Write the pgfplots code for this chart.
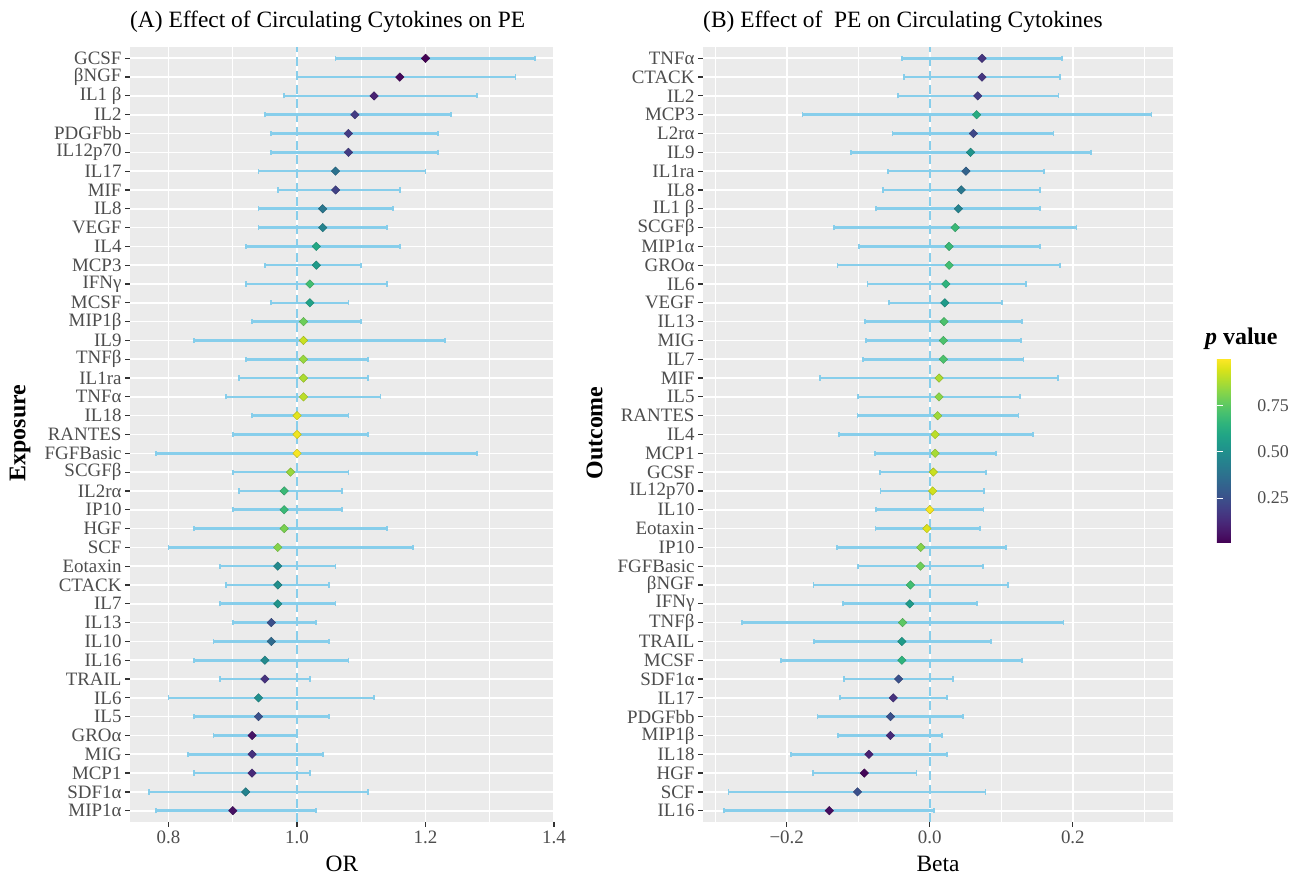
\documentclass[border=0pt]{standalone}
\usepackage{fontspec}
\setmainfont{Liberation Serif}
\usepackage{pgfplots}
\pgfplotsset{compat=1.18}
\usepgfplotslibrary{colormaps}
\usepackage{pgfplotstable}
\definecolor{ggbg}{HTML}{EBEBEB}
\definecolor{skyb}{HTML}{87CEEB}
\definecolor{ticklab}{HTML}{4D4D4D}
\definecolor{tickc}{HTML}{333333}

\pgfplotstableread{
y or lo hi p
1 0.90 0.78 1.03 0.05
2 0.92 0.77 1.11 0.45
3 0.93 0.84 1.02 0.12
4 0.93 0.83 1.04 0.15
5 0.93 0.87 1.00 0.06
6 0.94 0.84 1.05 0.25
7 0.94 0.80 1.12 0.50
8 0.95 0.88 1.02 0.15
9 0.95 0.84 1.08 0.48
10 0.96 0.87 1.05 0.35
11 0.96 0.90 1.03 0.25
12 0.97 0.88 1.06 0.52
13 0.97 0.89 1.05 0.50
14 0.97 0.88 1.06 0.48
15 0.97 0.80 1.18 0.82
16 0.98 0.84 1.14 0.80
17 0.98 0.90 1.07 0.68
18 0.98 0.91 1.07 0.68
19 0.99 0.90 1.08 0.85
20 1.00 0.78 1.28 0.99
21 1.00 0.90 1.11 0.98
22 1.00 0.93 1.08 0.96
23 1.01 0.89 1.13 0.90
24 1.01 0.91 1.11 0.88
25 1.01 0.92 1.11 0.85
26 1.01 0.84 1.23 0.92
27 1.01 0.93 1.10 0.78
28 1.02 0.96 1.08 0.58
29 1.02 0.92 1.14 0.70
30 1.03 0.95 1.10 0.55
31 1.03 0.92 1.16 0.60
32 1.04 0.94 1.14 0.45
33 1.04 0.94 1.15 0.40
34 1.06 0.97 1.16 0.20
35 1.06 0.94 1.20 0.38
36 1.08 0.96 1.22 0.18
37 1.08 0.96 1.22 0.18
38 1.09 0.95 1.24 0.18
39 1.12 0.98 1.28 0.10
40 1.16 1.00 1.34 0.03
41 1.20 1.06 1.37 0.01
}\dataA

\pgfplotstableread{
y b lo hi p
1 -0.1405 -0.2875 0.0055 0.04
2 -0.101 -0.2815 0.078 0.25
3 -0.0915 -0.163 -0.0185 0.02
4 -0.085 -0.194 0.0245 0.10
5 -0.055 -0.128 0.0175 0.12
6 -0.055 -0.157 0.0465 0.25
7 -0.051 -0.126 0.0245 0.15
8 -0.0435 -0.1195 0.0325 0.25
9 -0.039 -0.2075 0.129 0.65
10 -0.039 -0.162 0.0855 0.55
11 -0.038 -0.2625 0.187 0.75
12 -0.028 -0.1215 0.0655 0.55
13 -0.027 -0.1625 0.1095 0.70
14 -0.013 -0.1005 0.074 0.78
15 -0.0125 -0.13 0.106 0.82
16 -0.004 -0.076 0.0705 0.95
17 0.0 -0.075 0.075 0.99
18 0.004 -0.069 0.076 0.93
19 0.005 -0.07 0.0785 0.92
20 0.0075 -0.077 0.093 0.87
21 0.0075 -0.127 0.1445 0.90
22 0.011 -0.101 0.124 0.86
23 0.013 -0.1005 0.1265 0.83
24 0.013 -0.153 0.1795 0.88
25 0.019 -0.093 0.131 0.72
26 0.019 -0.089 0.128 0.72
27 0.02 -0.09 0.129 0.72
28 0.021 -0.0575 0.1005 0.55
29 0.0225 -0.087 0.1345 0.65
30 0.027 -0.129 0.1825 0.70
31 0.027 -0.099 0.154 0.68
32 0.0355 -0.134 0.205 0.68
33 0.04 -0.0755 0.154 0.45
34 0.044 -0.0655 0.154 0.40
35 0.0505 -0.058 0.16 0.32
36 0.057 -0.1105 0.225 0.52
37 0.061 -0.052 0.173 0.22
38 0.0655 -0.178 0.31 0.62
39 0.067 -0.044 0.18 0.18
40 0.073 -0.036 0.1825 0.16
41 0.073 -0.0385 0.1845 0.16
}\dataB

\pgfplotsset{
  forest/.style={
    scale only axis, height=775bp,
    ymin=0.4, ymax=41.6,
    ytick={1,...,41},
    axis background/.style={fill=ggbg},
    axis line style={draw=none},
    xmajorgrids, xminorgrids, ymajorgrids,
    major grid style={white, line width=1.6bp},
    minor grid style={white, line width=0.8bp},
    tick align=outside,
    xtick pos=left, ytick pos=left,
    major tick length=5bp,
    minor tick length=0pt,
    tick style={tickc, line width=1.2bp},
    ticklabel style={font=\fontsize{19}{21}\selectfont, text=ticklab},
    colormap/viridis,
    point meta min=0.008, point meta max=1.0,
  },
  ebar/.style={draw=none, mark=none,
    error bars/.cd, x dir=both, x explicit, error mark=|,
    error bar style={draw=skyb, line width=2.6bp},
    error mark options={draw=skyb, line width=1.8bp, mark size=2.6bp}},
  pts/.style={scatter, only marks, scatter src=explicit, mark=square*,
    mark size=3.0bp, mark options={rotate=45}},
}

\begin{document}
\begin{tikzpicture}
\useasboundingbox (0,0) rectangle (1301bp,876bp);

% Panel A
\begin{axis}[forest, at={(130bp,54bp)}, anchor=south west, width=424bp,
  xmin=0.74, xmax=1.40,
  xtick={0.8,1.0,1.2,1.4}, xticklabels={0.8,1.0,1.2,1.4},
  minor xtick={0.9,1.1,1.3},
  yticklabels={MIP1α,SDF1α,MCP1,MIG,GROα,IL5,IL6,TRAIL,IL16,IL10,IL13,IL7,CTACK,Eotaxin,SCF,HGF,IP10,IL2rα,SCGFβ,FGFBasic,RANTES,IL18,TNFα,IL1ra,TNFβ,IL9,MIP1β,MCSF,IFNγ,MCP3,IL4,VEGF,IL8,MIF,IL17,IL12p70,PDGFbb,IL2,IL1 β,βNGF,GCSF},
]
\addplot[skyb, line width=2bp, dash pattern=on 9bp off 5bp] coordinates {(1,0.4) (1,41.6)};
\addplot[ebar] table[x=or, y=y, x error plus expr=\thisrow{hi}-\thisrow{or}, x error minus expr=\thisrow{or}-\thisrow{lo}] {\dataA};
\addplot[pts] table[x=or, y=y, meta=p] {\dataA};
\end{axis}

% Panel B
\begin{axis}[forest, at={(703bp,54bp)}, anchor=south west, width=470bp,
  xmin=-0.317, xmax=0.340,
  xtick={-0.2,0,0.2}, xticklabels={−0.2,0.0,0.2},
  minor xtick={-0.3,-0.1,0.1,0.3},
  yticklabels={IL16,SCF,HGF,IL18,MIP1β,PDGFbb,IL17,SDF1α,MCSF,TRAIL,TNFβ,IFNγ,βNGF,FGFBasic,IP10,Eotaxin,IL10,IL12p70,GCSF,MCP1,IL4,RANTES,IL5,MIF,IL7,MIG,IL13,VEGF,IL6,GROα,MIP1α,SCGFβ,IL1 β,IL8,IL1ra,IL9,L2rα,MCP3,IL2,CTACK,TNFα},
  colorbar,
  colorbar style={
    at={(parent axis.south east)}, anchor=south west,
    xshift=35.3bp, yshift=279bp,
    scale only axis, width=37bp, height=184bp,
    ytick={0.25,0.5,0.75}, yticklabels={0.25,0.50,0.75},
    yticklabel pos=right,
    ytick pos=both,
    xtick=\empty,
    axis line style={draw=none},
    tick align=inside, major tick length=6bp,
    ytick style={draw=white, line width=1bp},
    yticklabel style={font=\fontsize{18}{20}\selectfont, text=ticklab},
  },
]
\addplot[skyb, line width=2bp, dash pattern=on 9bp off 5bp] coordinates {(0,0.4) (0,41.6)};
\addplot[ebar] table[x=b, y=y, x error plus expr=\thisrow{hi}-\thisrow{b}, x error minus expr=\thisrow{b}-\thisrow{lo}] {\dataB};
\addplot[pts] table[x=b, y=y, meta=p] {\dataB};
\end{axis}

% titles and labels
\node[anchor=base west, inner sep=0pt, font=\fontsize{23.5}{26}\selectfont] at (130bp,848bp) {(A) Effect of Circulating Cytokines on PE};
\node[anchor=base west, inner sep=0pt, font=\fontsize{23.5}{26}\selectfont] at (703bp,848bp) {(B) Effect of\ \ PE on Circulating Cytokines};
\node[anchor=base, inner sep=0pt, font=\fontsize{23.5}{26}\selectfont] at (342bp,4.5bp) {OR};
\node[anchor=base, inner sep=0pt, font=\fontsize{23.5}{26}\selectfont] at (938bp,4.5bp) {Beta};
\node[rotate=90, inner sep=0pt, font=\fontsize{24}{26}\selectfont\bfseries] at (20bp,443bp) {Exposure};
\node[rotate=90, inner sep=0pt, font=\fontsize{24}{26}\selectfont\bfseries] at (594.5bp,443bp) {Outcome};
\node[anchor=base west, inner sep=0pt, font=\fontsize{24}{26}\selectfont\bfseries] at (1205bp,531bp) {\textit{p} value};
\end{tikzpicture}
\end{document}
